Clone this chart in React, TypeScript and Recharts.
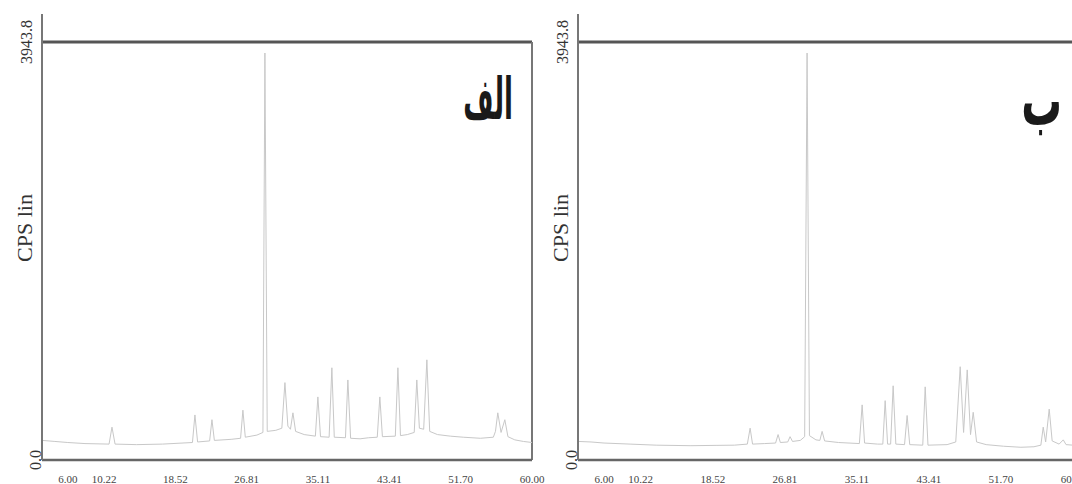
import React from "react";
import { LineChart, Line, XAxis, YAxis, ReferenceLine, Label } from "recharts";

// 2-theta tick labels and CPS range
const xTicks = [6.0, 10.22, 18.52, 26.81, 35.11, 43.41, 51.7, 60.0];
const yTicks = [0, 3943.8];
const Y_MAX = 3943.8;

// scan "الف" : [2theta, cps]
const scanA = [
  [3.0, 185], [4.5, 175], [6.0, 165], [8.0, 155], [10.8, 150], [11.14, 310], [11.5, 150],
  [14.0, 145], [17.0, 150], [20.5, 165], [20.79, 425], [21.1, 170], [22.5, 180], [22.77, 380],
  [23.05, 185], [25.0, 195], [26.1, 205], [26.37, 470], [26.65, 215], [28.0, 235], [28.7, 260],
  [28.93, 3840], [29.2, 270], [30.2, 280], [30.9, 300], [31.26, 730], [31.6, 320], [31.9, 290],
  [32.19, 445], [32.5, 270], [33.5, 240], [34.8, 225], [35.09, 595], [35.4, 220], [36.4, 215],
  [36.72, 870], [37.0, 215], [38.3, 210], [38.58, 755], [38.9, 205], [40.0, 200], [41.0, 210],
  [42.0, 215], [42.3, 595], [42.6, 220], [44.1, 225], [44.4, 870], [44.7, 230], [45.5, 240],
  [46.3, 260], [46.6, 755], [46.9, 300], [47.4, 290], [47.77, 945], [48.1, 270], [49.0, 240],
  [50.5, 225], [52.0, 215], [54.0, 205], [55.5, 215], [55.75, 270], [56.02, 445], [56.4, 260],
  [56.84, 380], [57.2, 220], [58.0, 190], [59.0, 175], [60.0, 165],
];

// scan "ب"
const scanB = [
  [3.0, 175], [4.5, 170], [6.0, 160], [9.0, 150], [12.0, 140], [16.0, 135], [19.0, 138],
  [21.0, 140], [22.5, 150], [22.82, 300], [23.1, 150], [24.5, 155], [25.75, 160], [26.04, 240],
  [26.3, 165], [27.15, 170], [27.42, 220], [27.7, 175], [28.6, 185], [29.1, 220], [29.38, 3840],
  [29.65, 230], [30.4, 190], [30.85, 185], [31.11, 270], [31.4, 180], [33.0, 165], [35.4, 155],
  [35.72, 520], [36.0, 160], [37.5, 150], [38.1, 150], [38.37, 560], [38.65, 150], [39.0, 150],
  [39.29, 700], [39.6, 150], [40.6, 145], [40.9, 420], [41.2, 145], [42.7, 140], [42.98, 690],
  [43.3, 140], [45.5, 145], [46.5, 170], [47.01, 880], [47.4, 260], [47.82, 850], [48.2, 240],
  [48.51, 450], [48.9, 170], [50.0, 145], [52.0, 130], [54.0, 120], [55.5, 125], [56.3, 140],
  [56.57, 310], [56.85, 170], [57.26, 480], [57.6, 180], [58.4, 150], [58.88, 190], [59.2, 145],
  [60.0, 140],
];

const serif = "'Liberation Serif', 'DejaVu Serif', serif";

function XTick({ x, payload }: any) {
  return (
    <text x={x} y={479} textAnchor="middle" dominantBaseline="central" fontSize={11} fill="#444" fontFamily={serif}>
      {payload.value.toFixed(2)}
    </text>
  );
}

function YTick({ x, y, payload }: any) {
  const off = payload.value === 0 ? 13 : 21;
  const cx = x + 6 - off + 8;
  return (
    <text
      x={cx}
      y={y}
      transform={`rotate(-90 ${cx} ${y})`}
      textAnchor="middle"
      dominantBaseline="central"
      fontSize={16}
      fill="#333"
      fontFamily={serif}
    >
      {payload.value.toFixed(1)}
    </text>
  );
}

function Scan({ points, width, right }: { points: number[][]; width: number; right: number }) {
  const data = points.map(([x, y]) => ({ x, y }));
  return (
    <LineChart width={width} height={484} data={data} margin={{ top: 14, right, bottom: 0, left: 0 }}>
      <XAxis
        type="number"
        dataKey="x"
        domain={[3, 60]}
        ticks={xTicks}
        interval={0}
        tickLine={false}
        axisLine={{ stroke: "#666", strokeWidth: 2.5 }}
        tick={<XTick />}
        height={24}
        allowDataOverflow
      />
      <YAxis
        type="number"
        domain={[0, 4208]}
        ticks={yTicks}
        interval={0}
        tickLine={false}
        axisLine={{ stroke: "#777", strokeWidth: 2 }}
        tick={<YTick />}
        width={42}
        allowDataOverflow
      >
        <Label
          content={({ viewBox }: any) => {
            const cx = viewBox.x + viewBox.width - 18;
            const cy = 228;
            return (
              <text
                x={cx}
                y={cy}
                transform={`rotate(-90 ${cx} ${cy})`}
                textAnchor="middle"
                dominantBaseline="central"
                fontSize={22}
                fill="#333"
                fontFamily={serif}
              >
                CPS lin
              </text>
            );
          }}
        />
      </YAxis>
      <ReferenceLine y={Y_MAX} stroke="#555" strokeWidth={3} />
      <ReferenceLine
        segment={[
          { x: 60, y: 0 },
          { x: 60, y: Y_MAX },
        ]}
        stroke="#777"
        strokeWidth={2}
      />
      <Line type="linear" dataKey="y" stroke="#c8c8c8" strokeWidth={1} dot={false} isAnimationActive={false} />
    </LineChart>
  );
}

const tag: React.CSSProperties = {
  position: "absolute",
  fontFamily: "'DejaVu Sans', sans-serif",
  fontWeight: "bold",
  color: "#1a1a1a",
  textAlign: "right",
  lineHeight: 1,
  transformOrigin: "right top",
  whiteSpace: "nowrap",
};

export default function App() {
  return (
    <div style={{ position: "fixed", left: 0, top: 0, width: 1072, height: 484, overflow: "hidden", background: "#fff" }}>
      <div style={{ position: "absolute", left: 0, top: 0 }}>
        <Scan points={scanA} width={560} right={28} />
      </div>
      <div style={{ position: "absolute", left: 536, top: 0 }}>
        <Scan points={scanB} width={540} right={3} />
      </div>
      <div style={{ ...tag, left: 363, width: 150, top: 70, fontSize: 58, transform: "scaleX(0.45)" }}>الف</div>
      <div style={{ ...tag, left: 912, width: 150, top: 66, fontSize: 70, transform: "scaleX(0.58)" }}>ب</div>
    </div>
  );
}
